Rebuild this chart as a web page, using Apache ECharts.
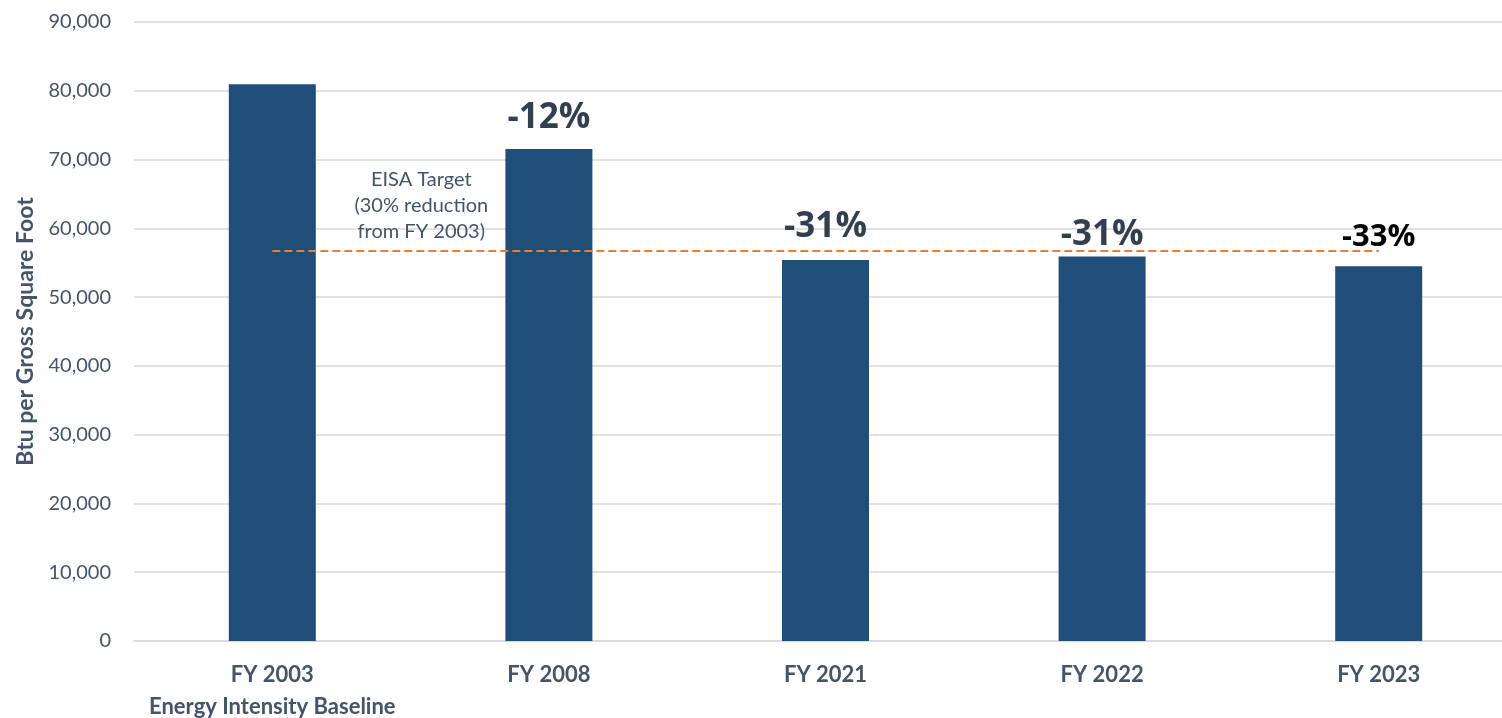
<!DOCTYPE html>
<html>
<head>
<meta charset="utf-8">
<script src="https://cdn.jsdelivr.net/npm/echarts@6/dist/echarts.min.js"></script>
<style>
  html, body { margin: 0; padding: 0; background: #fff; overflow: hidden; }
  /* the plot in the original runs a little past the right edge */
  #chart { width: 1520px; height: 718px; }
</style>
</head>
<body>
<div id="chart"></div>
<script>
// categories and values
const years = ['FY 2003', 'FY 2008', 'FY 2021', 'FY 2022', 'FY 2023'];
const intensity = [80950, 71520, 55400, 55890, 54480]; // Btu per gross square foot
const changeLabels = ['', '-12%', '-31%', '-31%', '-33%'];
const eisaTarget = 56700; // 30% below FY 2003
const yTicks = [0, 10000, 20000, 30000, 40000, 50000, 60000, 70000, 80000, 90000];

const font = 'Lato, "Open Sans", sans-serif';
const boldFont = '"Open Sans", Lato, sans-serif';
const textGray = '#44546A';

// label tweaks per bar (the original sits them a bit unevenly)
const labelDist = [0, 14, 15, 4, 14];
const labelColor = ['#333F50', '#333F50', '#333F50', '#333F50', '#000000'];
const labelSize = [35, 35, 35, 35, 31];

let barData = intensity.map((v, i) => ({
  value: v,
  label: {
    show: changeLabels[i] !== '',
    formatter: changeLabels[i],
    distance: labelDist[i],
    color: labelColor[i],
    fontSize: labelSize[i]
  }
}));

let chart = echarts.init(document.getElementById('chart'));
chart.setOption({
  animation: false,
  grid: { left: 134, right: 3, top: 22, bottom: 77 },
  xAxis: {
    type: 'category',
    data: years,
    axisTick: { show: false },
    axisLine: { lineStyle: { color: '#D9D9D9', width: 1.5 } },
    axisLabel: {
      interval: 0,
      margin: 18,
      formatter(value, index) {
        if (index === 0) return `{a|${value}}\n{a|Energy Intensity Baseline}`;
        return `{a|${value}}`;
      },
      rich: {
        a: { fontFamily: font, fontWeight: 'bold', fontSize: 22, color: textGray, lineHeight: 32 }
      }
    }
  },
  yAxis: {
    type: 'value',
    min: yTicks[0],
    max: yTicks[yTicks.length - 1],
    interval: yTicks[1] - yTicks[0],
    name: 'Btu per Gross Square Foot',
    nameLocation: 'middle',
    nameGap: 97,
    nameTextStyle: { fontFamily: font, fontWeight: 'bold', fontSize: 23, color: textGray },
    axisLine: { show: false },
    axisTick: { show: false },
    splitLine: { lineStyle: { color: '#D9D9D9', width: 1.5 } },
    axisLabel: {
      margin: 23,
      fontFamily: font,
      fontSize: 20,
      color: textGray,
      formatter: v => v.toLocaleString('en-US')
    }
  },
  series: [{
    type: 'bar',
    data: barData,
    barWidth: 87,
    itemStyle: { color: '#1F4E79' },
    label: {
      position: 'top',
      fontFamily: boldFont,
      fontWeight: 'bold'
    },
    markLine: {
      silent: true,
      symbol: 'none',
      label: { show: false },
      lineStyle: { color: '#ED7D31', type: [8, 4], width: 2 },
      data: [[
        { coord: [years[0], eisaTarget] },
        { coord: [years[years.length - 1], eisaTarget] }
      ]]
    },
    markPoint: {
      silent: true,
      symbol: 'circle',
      symbolSize: 0,
      data: [{ coord: [years[0], eisaTarget] }],
      label: {
        show: true,
        formatter: 'EISA Target\n(30% reduction\nfrom FY 2003)',
        offset: [149, -45],
        fontFamily: font,
        fontSize: 20,
        lineHeight: 26,
        color: textGray,
        align: 'center',
        verticalAlign: 'middle'
      }
    }
  }]
});
</script>
</body>
</html>
